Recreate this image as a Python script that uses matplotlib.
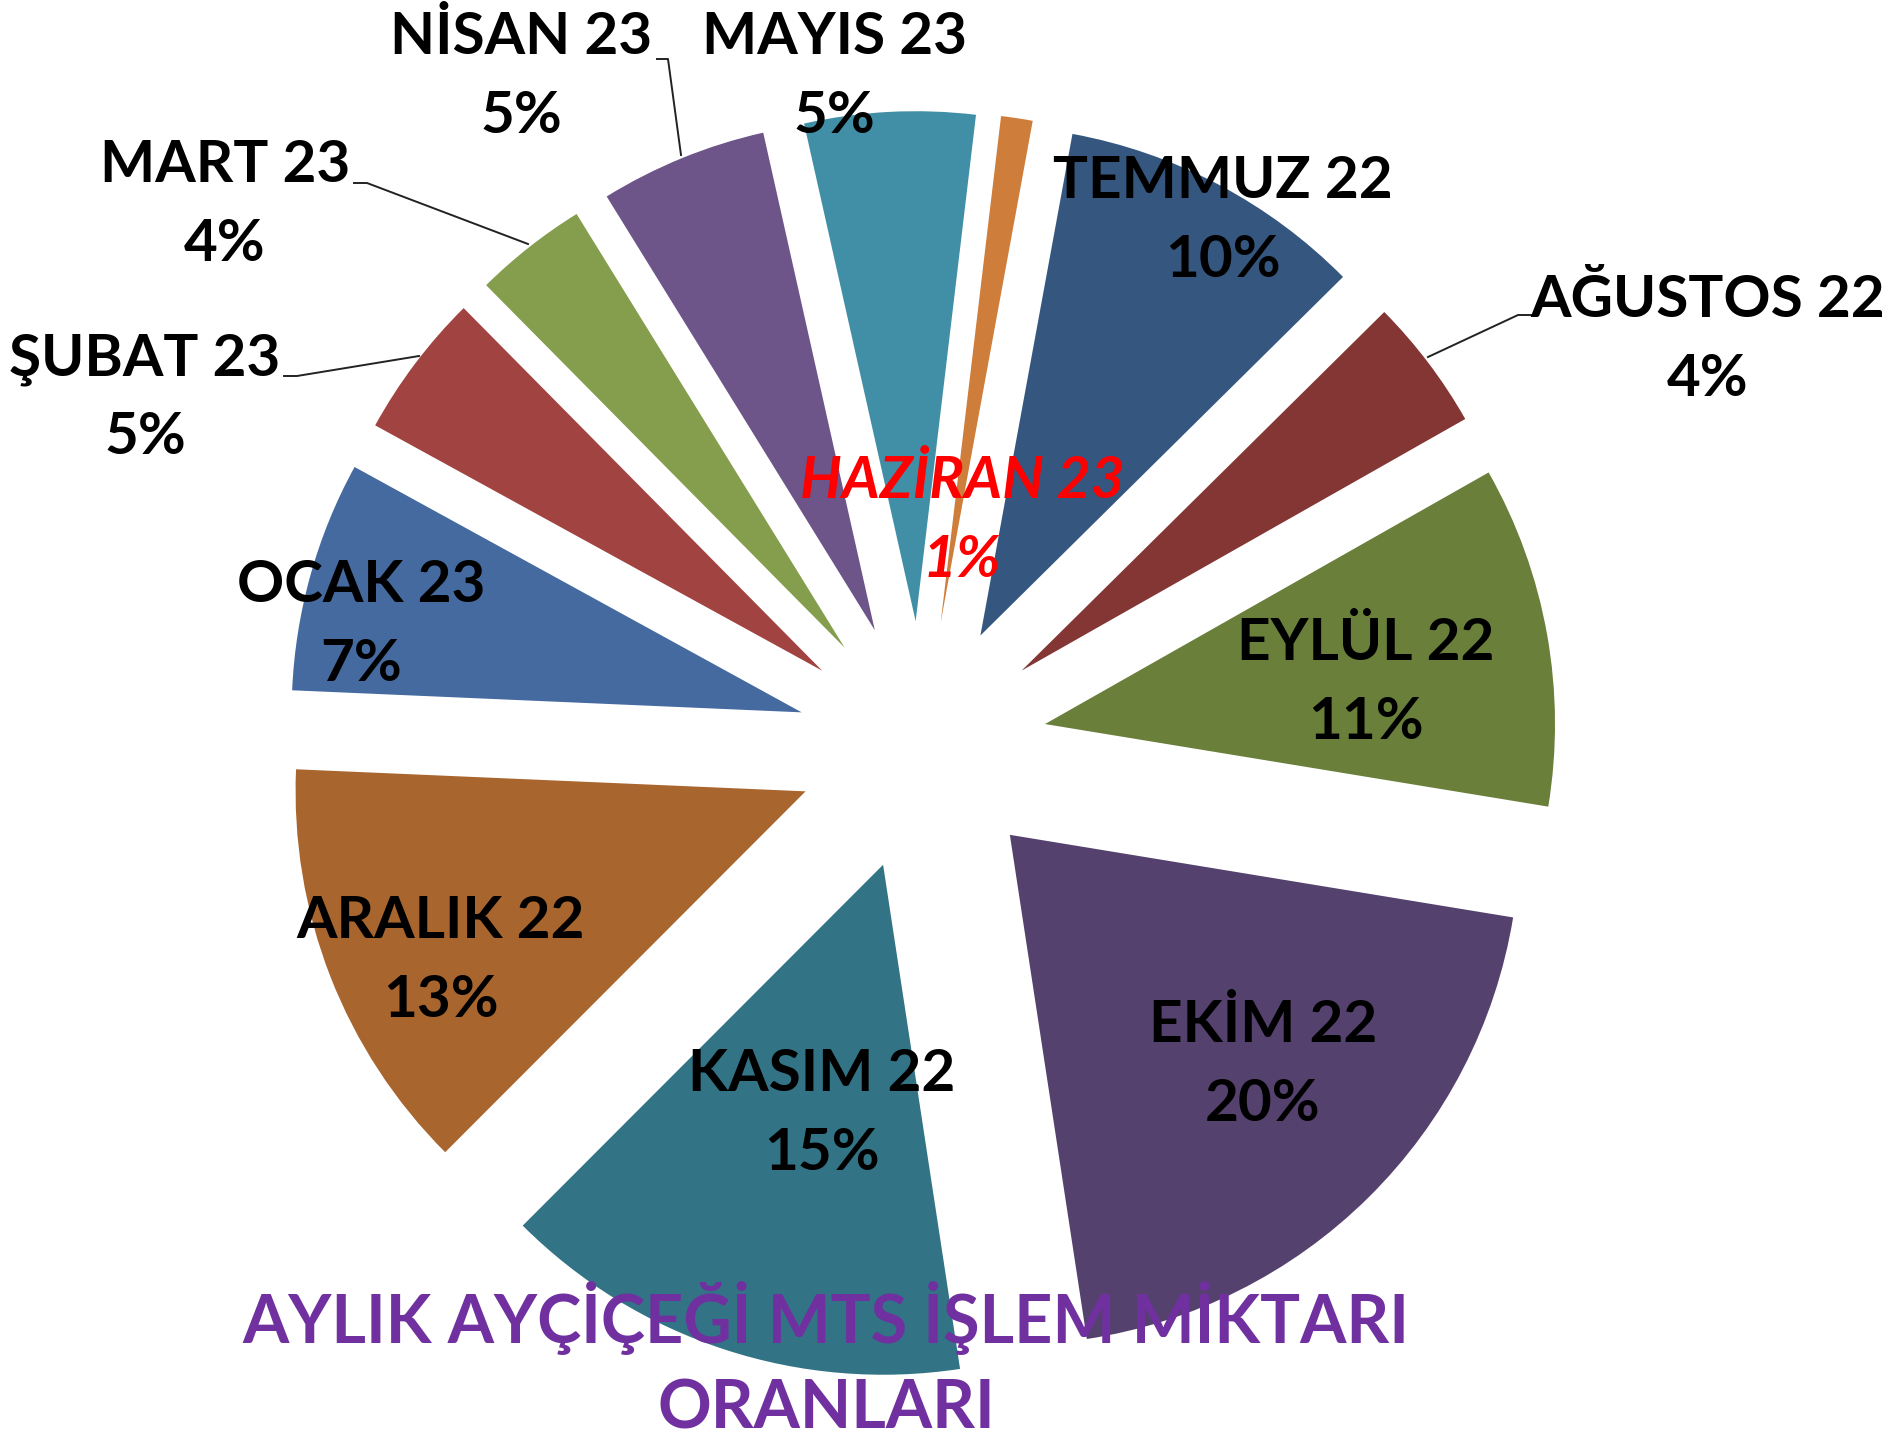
import matplotlib.pyplot as plt

months = ["TEMMUZ 22", "AĞUSTOS 22", "EYLÜL 22", "EKİM 22", "KASIM 22", "ARALIK 22",
          "OCAK 23", "ŞUBAT 23", "MART 23", "NİSAN 23", "MAYIS 23", "HAZİRAN 23"]
shares = [9.7, 4.2, 10.8, 20.0, 14.9, 13.2, 7.3, 4.6, 3.6, 5.3, 5.4, 1.0]
colors = ["#35577F", "#833633", "#6A7F3A", "#54416E", "#327385", "#A9652E",
          "#446AA0", "#A14341", "#849E4D", "#6D5489", "#408FA6", "#CE7D3B"]
title = "AYLIK AYÇİÇEĞİ MTS İŞLEM MİKTARI\nORANLARI"

W, H = 1891, 1440
CX, CY, R = 922, 746, 510   # pie centre and radius in pixels


def px(x, y):
    # pixel position (from top-left) -> data units of the pie axes
    return (x - CX) / R, (CY - y) / R


# where the first line of each label sits (pixels), and leader lines
label_pos = [(1223, 177), (1708, 296), (1366, 639), (1263, 1021), (822, 1070), (441, 917),
             (361, 581), (145, 354), (225, 161), (521, 33), (834, 33), (962, 477)]
line_gap = 79
leaders = {
    1: [(1428, 357), (1518, 315), (1532, 315)],
    7: [(419, 356), (297, 376), (284, 376)],
    8: [(528, 244), (367, 183), (354, 183)],
    9: [(681, 155), (668, 59), (657, 59)],
}

fig = plt.figure(figsize=(W / 100, H / 100), dpi=100)
ax = fig.add_axes([0, 0, 1, 1])

ax.pie(shares, colors=colors, startangle=79.6, counterclock=False,
       explode=[0.245] * len(shares), radius=1, wedgeprops=dict(linewidth=0))
ax.set_xlim(-CX / R, (W - CX) / R)
ax.set_ylim(-(H - CY) / R, CY / R)
ax.axis("off")

total = sum(shares)
for i, (name, v) in enumerate(zip(months, shares)):
    x, y = label_pos[i]
    style = dict(ha="center", va="center_baseline", fontsize=42,
                 fontweight="bold", family=["Lato", "DejaVu Sans"], color="black")
    if name.startswith("HAZİRAN"):
        style.update(color="red", fontstyle="italic")
    ax.text(*px(x, y), name, **style)
    ax.text(*px(x, y + line_gap), f"{v / total * 100:.0f}%", **style)

for i, pts in leaders.items():
    xs, ys = zip(*[px(a, b) for a, b in pts])
    ax.plot(xs, ys, color="#222222", lw=1.4)

t1, t2 = title.split("\n")
ax.text(*px(826, 1312), t1, ha="center", va="center_baseline", fontsize=48,
        fontweight="bold", family=["Lato", "DejaVu Sans"], color="#7030A0")
ax.text(*px(826, 1404), t2, ha="center", va="center_baseline", fontsize=48,
        fontweight="bold", family=["Lato", "DejaVu Sans"], color="#7030A0")

fig.savefig("out.png", dpi=100)
